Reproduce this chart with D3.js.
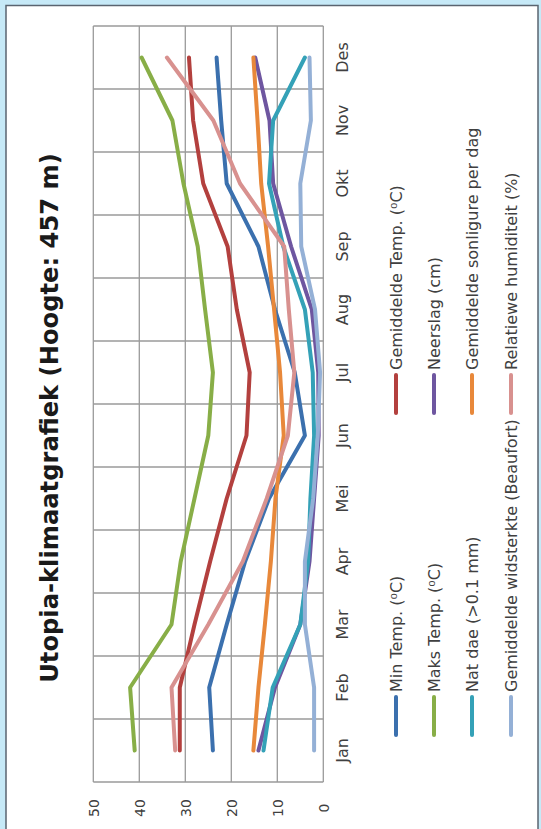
<!DOCTYPE html>
<html>
<head>
<meta charset="utf-8">
<script src="https://cdn.jsdelivr.net/npm/d3@7"></script>
<style>
  body { margin: 0; background: #c6e9f7; }
  svg { display: block; }
</style>
</head>
<body>
<svg id="chart" width="541" height="829"></svg>
<script>
// --- Data ---
const months = ["Jan", "Feb", "Mar", "Apr", "Mei", "Jun", "Jul", "Aug", "Sep", "Okt", "Nov", "Des"];
const valueTicks = [0, 10, 20, 30, 40, 50];

const minTemp   = [24, 24.8, 21, 17, 11.8, 4, 6.2, 10.5, 14.1, 21, 22.2, 23.2];
const gemTemp   = [31.2, 31.2, 28, 24.6, 21, 16.7, 16, 18.8, 20.8, 26.1, 28.3, 29.2];
const maksTemp  = [41, 42, 33, 31, 28, 25, 24, 25.7, 27.3, 30.4, 32.8, 39.5];
const neerslag  = [14.1, 10.5, 5, 3, 2, 1, 1.1, 2.5, 7, 10.9, 11.7, 14.8];
const natDae    = [13, 11, 5, 3.3, 2.8, 2, 2.3, 4, 8.7, 11.8, 10.9, 4];
const sonlig    = [15.2, 14.1, 12.7, 11.4, 10.4, 8.6, 9.4, 10.7, 12, 13.5, 14.3, 15.2];
const wind      = [2, 2, 4, 4, 2.2, 1.2, 0.7, 1.8, 4.8, 5, 2.7, 3];
const humid     = [32.2, 33, 25, 17.5, 12.3, 7.7, 6.3, 7.5, 8.5, 18.1, 23.9, 34];

const seriesNames = [
  "Min Temp. (\u2070C)", "Gemiddelde Temp. (\u2070C)",
  "Maks Temp. (\u2070C)", "Neerslag (cm)",
  "Nat dae (>0.1 mm)", "Gemiddelde sonligure per dag",
  "Gemiddelde widsterkte (Beaufort)", "Relatiewe humiditeit (%)"
];
const seriesValues = [minTemp, gemTemp, maksTemp, neerslag, natDae, sonlig, wind, humid];
const seriesColors = ["#3b70ae", "#b3403e", "#88ae47", "#6e56a0", "#34a1b7", "#e8883a", "#94b0d6", "#d8918f"];

const font = "'Century Gothic', 'DejaVu Sans', sans-serif";

// --- Layout (chart is rotated: months run bottom -> top) ---
const plot = { left: 93.3, right: 323.3, top: 26, bottom: 782 };

const svg = d3.select("#chart");

// white panel with dark frame
svg.append("rect")
  .attr("x", 6).attr("y", 5.5)
  .attr("width", 532).attr("height", 840)
  .attr("fill", "#fff")
  .attr("stroke", "#5a6470")
  .attr("stroke-width", 1.5);

const x = d3.scaleLinear().domain([0, 50]).range([plot.right, plot.left]);
const y = d3.scaleBand().domain(months).range([plot.bottom, plot.top]);
const yc = m => y(m) + y.bandwidth() / 2;

// --- Grid ---
const grid = svg.append("g").attr("stroke", "#9a9a9a").attr("stroke-width", 1.3);
grid.selectAll(".vg").data(valueTicks).enter().append("line")
  .attr("x1", d => x(d)).attr("x2", d => x(d))
  .attr("y1", plot.top).attr("y2", plot.bottom);
grid.selectAll(".hg").data(months).enter().append("line")
  .attr("x1", plot.left).attr("x2", plot.right)
  .attr("y1", d => y(d)).attr("y2", d => y(d));
grid.append("line")
  .attr("x1", plot.left).attr("x2", plot.right)
  .attr("y1", plot.bottom).attr("y2", plot.bottom);

// --- Value axis (bottom, rotated labels) ---
const xAxis = svg.append("g")
  .attr("transform", `translate(0,${plot.bottom})`)
  .call(d3.axisBottom(x).tickValues(valueTicks).tickSize(0).tickFormat(d3.format("d")));
xAxis.select(".domain").remove();
xAxis.selectAll("text")
  .attr("y", 0).attr("dy", 0)
  .attr("transform", "translate(5,26) rotate(-90)")
  .attr("text-anchor", "middle")
  .style("font-family", font).style("font-size", "14px").style("fill", "#404040");

// --- Month axis (right, rotated labels) ---
const yAxis = svg.append("g")
  .attr("transform", `translate(${plot.right},0)`)
  .call(d3.axisRight(y).tickSize(0));
yAxis.select(".domain").remove();
yAxis.selectAll(".tick text")
  .attr("x", 0).attr("dy", 0)
  .attr("transform", "translate(25,0) rotate(-90)")
  .attr("text-anchor", "middle")
  .style("font-family", font).style("font-size", "16px").style("fill", "#404040");

// --- Lines ---
const line = d3.line()
  .x(d => x(d.v))
  .y(d => yc(d.m));

seriesValues.forEach((vals, i) => {
  svg.append("path")
    .datum(vals.map((v, j) => ({ m: months[j], v: v })))
    .attr("d", line)
    .attr("fill", "none")
    .attr("stroke", seriesColors[i])
    .attr("stroke-width", 4)
    .attr("stroke-linejoin", "round")
    .attr("stroke-linecap", "round");
});

// --- Title ---
const title = svg.append("text")
  .attr("transform", `translate(58,418) rotate(-90)`)
  .attr("text-anchor", "middle")
  .style("font-family", "'Century Gothic', 'DejaVu Sans', sans-serif")
  .style("font-weight", "bold")
  .style("font-size", "30px")
  .style("fill", "#1a1a1a")
  .text("Utopia-klimaatgrafiek (Hoogte: 457 m)");
// shrink font to the width seen in the reference
const tl = title.node().getComputedTextLength();
title.style("font-size", (30 * 530 / tl) + "px");

// --- Legend (two columns, read row-wise) ---
const legendX = [396, 434, 472, 511];
const legendCol = [
  { swTop: 697, swBot: 735, textY: 692 },
  { swTop: 375, swBot: 413, textY: 370 }
];
seriesNames.forEach((name, i) => {
  const row = Math.floor(i / 2), col = legendCol[i % 2];
  const lx = legendX[row];
  svg.append("line")
    .attr("x1", lx).attr("x2", lx)
    .attr("y1", col.swTop).attr("y2", col.swBot)
    .attr("stroke", seriesColors[i])
    .attr("stroke-width", 4)
    .attr("stroke-linecap", "round");
  svg.append("text")
    .attr("transform", `translate(${lx + 6},${col.textY}) rotate(-90)`)
    .attr("text-anchor", "start")
    .style("font-family", font).style("font-size", "16px").style("fill", "#404040")
    .text(name);
});
</script>
</body>
</html>
